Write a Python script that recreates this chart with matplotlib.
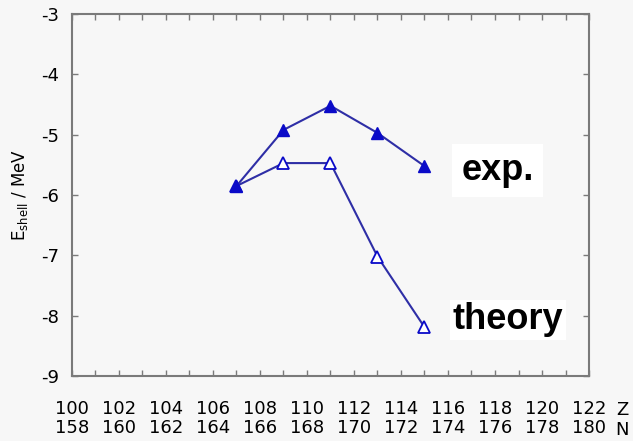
import numpy as np
import matplotlib.pyplot as plt
from matplotlib.ticker import MultipleLocator

plt.rcParams['font.family'] = ['Liberation Sans Narrow', 'DejaVu Sans']
plt.rcParams['axes.unicode_minus'] = False

# data (proton number Z, shell energy in MeV)
z_exp = [107, 109, 111, 113, 115]
e_exp = [-5.85, -4.92, -4.52, -4.97, -5.52]
z_theory = [107, 109, 111, 113, 115]
e_theory = [-5.85, -5.47, -5.47, -7.02, -8.19]

z_ticks = list(range(100, 123, 2))
n_ticks = [z + 58 for z in z_ticks]
y_ticks = [-3, -4, -5, -6, -7, -8, -9]

bg = '#f7f7f7'
blue = '#2e2ea6'
mk = '#0a0ac8'
grey = '#7a7a7a'

fig = plt.figure(figsize=(6.33, 4.41), dpi=100, facecolor=bg)
ax = fig.add_axes([0.1137, 0.1474, 0.8168, 0.8206], facecolor=bg)

# theory first so the shared first point shows the filled exp marker
ax.plot(z_theory, e_theory, '-', color=blue, lw=1.5, marker='^', ms=8,
        mfc='white', mec=mk, mew=1.3, zorder=3)
ax.plot(z_exp, e_exp, '-', color=blue, lw=1.5, marker='^', ms=8,
        mfc=mk, mec=mk, zorder=4)

ax.set_xlim(100, 122)
ax.set_ylim(-9, -3)
ax.set_yticks(y_ticks)
ax.set_yticklabels([str(v) for v in y_ticks], fontsize=13)
ax.set_xticks(z_ticks)
ax.set_xticklabels([f'{z}\n{n}' for z, n in zip(z_ticks, n_ticks)],
                   fontsize=13, linespacing=1.1)
ax.xaxis.set_minor_locator(MultipleLocator(1))

ax.tick_params(axis='both', which='both', direction='in', top=True, right=True,
               color=grey, width=1.0, length=4)
ax.tick_params(axis='x', pad=17)
ax.tick_params(axis='y', pad=9)
for s in ax.spines.values():
    s.set_color(grey)
    s.set_linewidth(1.5)

ax.text(1.064, -0.07, 'Z\nN', transform=ax.transAxes, fontsize=13,
        ha='center', va='top', linespacing=1.1)

ax.set_ylabel('E$_{\\mathrm{shell}}$ / MeV', fontsize=12, labelpad=8)

ax.text(118.1, -5.59, 'exp.', fontsize=26, fontweight='bold',
        family='Liberation Sans', ha='center', va='center',
        bbox=dict(boxstyle='square,pad=0.25', fc='white', ec='none'))
ax.text(118.55, -8.07, 'theory', fontsize=26, fontweight='bold',
        family='Liberation Sans', ha='center', va='center',
        bbox=dict(boxstyle='square,pad=0.08', fc='white', ec='none'))

fig.savefig('out.png', dpi=100, facecolor=bg)
